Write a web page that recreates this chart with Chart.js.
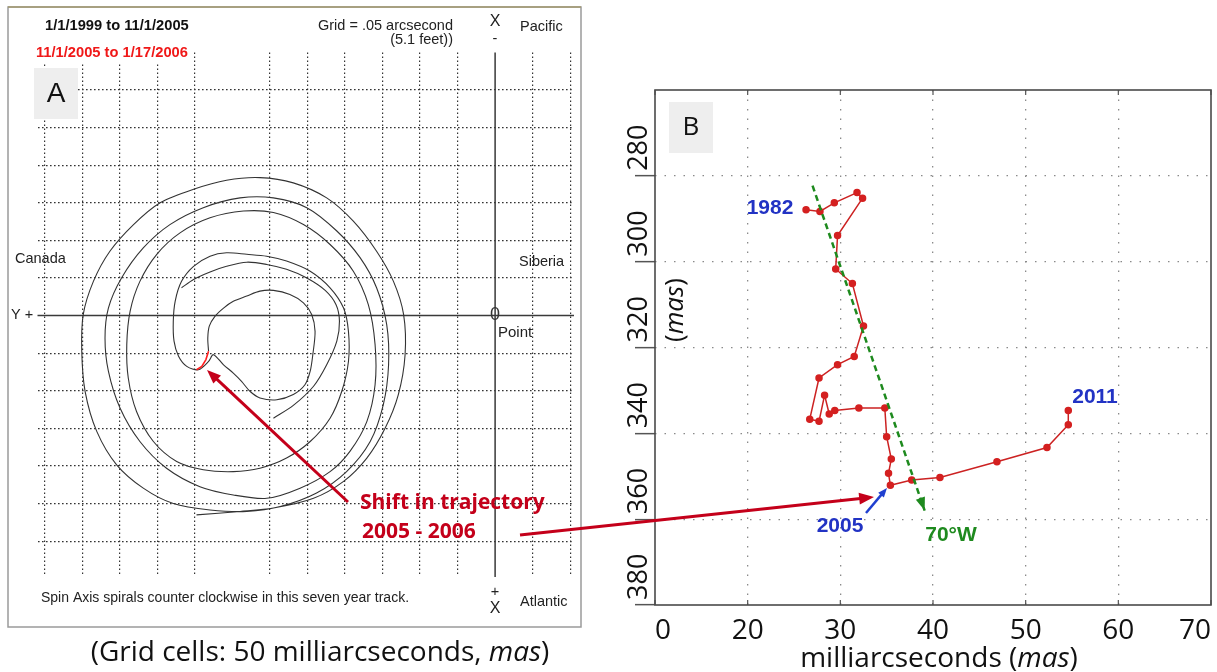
<!DOCTYPE html>
<html>
<head>
<meta charset="utf-8">
<script src="https://cdn.jsdelivr.net/npm/chart.js@4.4.1/dist/chart.umd.min.js"></script>
<style>
html, body { margin: 0; padding: 0; background: #fff; }
#wrap { position: relative; width: 1217px; height: 672px; overflow: hidden; }
#wrap canvas { position: absolute; left: 0; top: 0; }
</style>
</head>
<body>
<div id="wrap">
  <canvas id="spiral" width="1217" height="672"></canvas>
  <canvas id="trend" width="1217" height="672"></canvas>
</div>
<script>
// ---- panel A: pole track 1999-2006, grid cells (1 cell = 50 mas), origin at the Point
const trackLoops = [
  [-7.96,-5.30],[-6.80,-5.21],[-5.91,-5.12],[-4.84,-4.86],[-4.04,-4.41],[-3.42,-3.79],[-2.93,-2.99],[-2.58,-2.10],
  [-2.40,-1.04],[-2.44,0.03],[-2.71,0.91],[-3.16,1.71],[-3.78,2.51],[-4.49,3.13],[-5.38,3.53],[-6.27,3.67],
  [-7.16,3.60],[-8.04,3.36],[-8.93,3.00],[-9.64,2.42],[-10.27,1.71],[-10.71,0.91],[-10.98,0.03],[-11.02,-0.95],
  [-10.93,-2.02],[-10.62,-3.08],[-10.09,-3.97],[-9.38,-4.59],[-8.58,-5.00],[-7.60,-5.17],[-6.62,-5.21],
  [-5.73,-5.08],[-4.76,-4.72],[-3.96,-4.15],[-3.33,-3.35],[-2.98,-2.37],[-2.84,-1.31],[-2.89,-0.24],[-3.16,0.74],
  [-3.60,1.54],[-4.22,2.25],[-5.02,2.87],[-5.91,3.13],[-6.80,3.13],[-7.78,2.87],[-8.67,2.42],[-9.38,1.80],
  [-9.96,1.00],[-10.31,0.20],[-10.40,-0.60],[-10.31,-1.48],[-10.00,-2.46],[-9.47,-3.35],[-8.76,-4.06],[-7.87,-4.55],
  [-6.98,-4.77],[-6.09,-4.86],
  [-5.20,-4.59],[-4.40,-4.15],[-3.87,-3.61],[-3.42,-2.82],[-3.20,-1.84],[-3.20,-0.77],[-3.38,0.29],[-3.78,1.18],
  [-4.40,1.89],[-5.11,2.42],[-5.91,2.74],[-6.71,2.78],[-7.60,2.60],[-8.40,2.20],[-9.02,1.63],[-9.47,0.91],
  [-9.73,0.12],[-9.82,-0.77],[-9.78,-1.66],[-9.56,-2.55],[-9.11,-3.35],[-8.49,-3.88],[-7.78,-4.10],[-6.98,-4.15],
  [-6.27,-4.06],[-5.56,-3.79],[-4.93,-3.35],
  [-4.40,-2.73],[-4.09,-2.02],[-3.91,-1.22],[-3.91,-0.42],[-4.04,0.20],[-4.40,0.74],[-4.93,1.18],[-5.56,1.45],
  [-6.09,1.58],[-6.62,1.63],[-7.16,1.67],[-7.60,1.58],[-8.04,1.31],[-8.36,0.91],[-8.53,0.38],[-8.58,-0.15],
  [-8.56,-0.68],[-8.44,-1.08],[-8.22,-1.35],[-7.91,-1.44],[-7.64,-1.22],[-7.51,-1.04],
  [-7.24,-1.31],[-6.98,-1.53],[-6.76,-1.75],[-6.53,-2.02],[-6.27,-2.19],[-5.82,-2.24],[-5.38,-2.10],[-5.07,-1.84],
  [-4.93,-1.48],[-4.86,-1.04],[-4.80,-0.42],[-4.89,0.03],[-5.11,0.34],[-5.47,0.56],[-5.91,0.67],[-6.27,0.65],
  [-6.62,0.52],[-6.98,0.38],[-7.24,0.20],[-7.47,-0.02],[-7.62,-0.28],[-7.66,-0.60],[-7.64,-0.95]
];
const trackStart = [
  [-5.91,-2.73],[-5.38,-2.39],[-4.84,-1.88],[-4.49,-1.31],[-4.22,-0.68],[-4.15,-0.15],[-4.24,0.29],[-4.53,0.67],
  [-5.02,1.00],[-5.56,1.23],[-6.09,1.36],[-6.62,1.42],[-7.16,1.31],[-7.60,1.16],[-8.04,0.96],[-8.36,0.74]
];
const trackShift = [[-7.64,-0.95],[-7.71,-1.17],[-7.82,-1.35],[-7.96,-1.44]];

// ---- panel B: mean pole 1982-2011 (mas)
const meanX = [26.3,27.8,29.35,31.8,32.4,29.7,29.5,31.3,32.5,31.5,29.7,27.7,26.7,27.7,28.3,28.8,29.4,32.0,34.8,35.0,35.5,35.2,35.4,37.7,40.75,46.9,52.3,54.6,54.6];
const meanY = [287.9,288.3,286.3,283.9,285.2,293.9,301.7,305.1,315.0,322.1,324.0,327.1,336.7,337.2,331.1,335.5,334.7,334.1,334.1,340.8,346.0,349.3,352.1,350.9,350.3,346.6,343.3,338.0,334.7];
const driftX = [27.0, 39.1];
const driftY = [282.3, 358.0];
const xTickLabels = ['0','20','30','40','50','60','70'];
const yTickValues = [280,300,320,340,360,380];
const yTickLabels = ['280','300','320','340','360','380'];

const CLEAR = 'rgba(0,0,0,0)';
const toPts = arr => arr.map(p => ({ x: p[0], y: p[1] }));

function arrow(ctx, x1, y1, x2, y2, color, w, head) {
  const a = Math.atan2(y2 - y1, x2 - x1);
  ctx.save();
  ctx.strokeStyle = color; ctx.fillStyle = color; ctx.lineWidth = w; ctx.setLineDash([]);
  ctx.beginPath();
  ctx.moveTo(x1, y1);
  ctx.lineTo(x2 - Math.cos(a) * head * 0.7, y2 - Math.sin(a) * head * 0.7);
  ctx.stroke();
  ctx.beginPath();
  ctx.moveTo(x2, y2);
  ctx.lineTo(x2 - head * Math.cos(a - 0.38), y2 - head * Math.sin(a - 0.38));
  ctx.lineTo(x2 - head * Math.cos(a + 0.38), y2 - head * Math.sin(a + 0.38));
  ctx.closePath();
  ctx.fill();
  ctx.restore();
}

function txt(ctx, s, x, y, font, color, align) {
  ctx.font = font;
  ctx.fillStyle = color;
  ctx.textAlign = align || 'left';
  ctx.textBaseline = 'middle';
  ctx.fillText(s, x, y);
}

// pieces of text with different fonts, centred on cx
function parts(ctx, list, cx, y, color) {
  let total = 0;
  list.forEach(p => { ctx.font = p[1]; total += ctx.measureText(p[0]).width; });
  let x = cx - total / 2;
  ctx.fillStyle = color;
  ctx.textAlign = 'left';
  ctx.textBaseline = 'middle';
  list.forEach(p => { ctx.font = p[1]; ctx.fillText(p[0], x, y); x += ctx.measureText(p[0]).width; });
}

const ARIAL = '"Liberation Sans", Arial, sans-serif';
const CALIBRI = '"Open Sans", sans-serif';

const panelA = {
  id: 'panelA',
  beforeDatasetsDraw(chart) {
    const ctx = chart.ctx, xs = chart.scales.x, ys = chart.scales.y, area = chart.chartArea;
    const x0 = xs.getPixelForValue(0), y0 = ys.getPixelForValue(0);
    ctx.save();
    // white patch behind the red dates
    ctx.fillStyle = '#fff';
    ctx.fillRect(28, 44, 166, 20);
    ctx.strokeStyle = '#3a3a3a';
    ctx.lineWidth = 1.5;
    ctx.beginPath();
    ctx.moveTo(x0, area.top); ctx.lineTo(x0, area.bottom + 2);
    ctx.moveTo(area.left, y0); ctx.lineTo(area.right + 2, y0);
    ctx.stroke();
    // label box A
    ctx.fillStyle = '#eeeeee';
    ctx.fillRect(34, 68, 44, 51);
    ctx.restore();
  },
  afterDraw(chart) {
    const ctx = chart.ctx;
    const small = '14.5px ' + ARIAL;
    ctx.save();
    // frame
    ctx.lineWidth = 1.5;
    ctx.strokeStyle = '#9a9a9a';
    ctx.strokeRect(8, 7, 573, 620);
    ctx.strokeStyle = '#a39a70';
    ctx.beginPath(); ctx.moveTo(8, 7); ctx.lineTo(581, 7); ctx.stroke();

    txt(ctx, 'A', 56, 94, '28px ' + ARIAL, '#111', 'center');
    txt(ctx, '1/1/1999 to 11/1/2005', 45, 26, 'bold 14.7px ' + ARIAL, '#111');
    txt(ctx, '11/1/2005 to 1/17/2006', 36, 53, 'bold 14.7px ' + ARIAL, '#f01818');
    txt(ctx, 'Grid = .05 arcsecond', 453, 26, small, '#222', 'right');
    txt(ctx, '(5.1 feet))', 453, 40, small, '#222', 'right');
    txt(ctx, 'X', 495, 22, '16px ' + ARIAL, '#222', 'center');
    txt(ctx, '-', 495, 39, small, '#222', 'center');
    txt(ctx, 'Pacific', 520, 27, small, '#222');
    txt(ctx, 'Canada', 15, 259, small, '#222');
    txt(ctx, 'Siberia', 519, 262, small, '#222');
    txt(ctx, 'Y +', 11, 315, small, '#222');
    txt(ctx, '0', 495, 315, '18px ' + ARIAL, '#333', 'center');
    txt(ctx, 'Point', 498, 333, '15px ' + ARIAL, '#222');
    txt(ctx, 'Spin Axis spirals counter clockwise in this seven year track.', 41, 598, '14px ' + ARIAL, '#222');
    txt(ctx, '+', 495, 592, small, '#222', 'center');
    txt(ctx, 'X', 495, 609, '16px ' + ARIAL, '#222', 'center');
    txt(ctx, 'Atlantic', 520, 602, small, '#222');

    txt(ctx, 'Shift in trajectory', 360, 503, 'bold 21px ' + CALIBRI, '#c4001a');
    txt(ctx, '2005 - 2006', 362, 532, 'bold 21px ' + CALIBRI, '#c4001a');
    arrow(ctx, 348, 502, 207, 370, '#c4001a', 3, 15);

    parts(ctx, [['(Grid cells: 50 milliarcseconds, ', '28px ' + CALIBRI], ['mas', 'italic 28px ' + CALIBRI], [')', '28px ' + CALIBRI]], 320, 653, '#111');
    ctx.restore();
  }
};

const gridA = c => {
  const v = c.tick ? c.tick.value : NaN;
  return (Number.isInteger(v) && v !== 0 && Math.abs(v) !== 7) ? '#333' : CLEAR;
};

new Chart(document.getElementById('spiral'), {
  type: 'scatter',
  data: {
    datasets: [
      { data: toPts(trackShift), showLine: true, borderColor: '#ff2020', borderWidth: 1.6, pointRadius: 0, tension: 0 },
      { data: toPts(trackLoops), showLine: true, borderColor: '#333', borderWidth: 1.1, pointRadius: 0, tension: 0.3 },
      { data: toPts(trackStart), showLine: true, borderColor: '#333', borderWidth: 1.1, pointRadius: 0, tension: 0.3 }
    ]
  },
  options: {
    responsive: false, animation: false, devicePixelRatio: 1,
    layout: { padding: { left: 37.5, top: 52.4, right: 645, bottom: 97 } },
    plugins: { legend: { display: false }, tooltip: { enabled: false } },
    scales: {
      x: {
        type: 'linear', min: -12.2, max: 2.05,
        afterFit: s => { s.height = 0; },
        ticks: { display: false, stepSize: 1, includeBounds: false },
        border: { display: false, dash: [1.6, 2.4] },
        grid: { drawTicks: false, color: gridA, lineWidth: 1.2 }
      },
      y: {
        type: 'linear', min: -6.9, max: 7,
        afterFit: s => { s.width = 0; },
        ticks: { display: false, stepSize: 1, includeBounds: false },
        border: { display: false, dash: [1.6, 2.4] },
        grid: { drawTicks: false, color: gridA, lineWidth: 1.2 }
      }
    }
  },
  plugins: [panelA]
});

const panelB = {
  id: 'panelB',
  beforeDatasetsDraw(chart) {
    const ctx = chart.ctx, a = chart.chartArea, xs = chart.scales.x;
    ctx.save();
    ctx.fillStyle = '#eeeeee';
    ctx.fillRect(669, 102, 44, 51);
    // MATLAB style inner ticks
    ctx.strokeStyle = '#555';
    ctx.lineWidth = 1.2;
    ctx.beginPath();
    xs.ticks.forEach(t => {
      const x = xs.getPixelForValue(t.value);
      ctx.moveTo(x, a.top); ctx.lineTo(x, a.top + 5);
      ctx.moveTo(x, a.bottom); ctx.lineTo(x, a.bottom - 5);
    });
    ctx.stroke();
    ctx.lineWidth = 1.6;
    ctx.strokeStyle = '#4a4a4a';
    ctx.strokeRect(a.left, a.top, a.right - a.left, a.bottom - a.top);
    ctx.restore();
  },
  afterDraw(chart) {
    const ctx = chart.ctx, xs = chart.scales.x, ys = chart.scales.y;
    ctx.save();
    txt(ctx, 'B', 691, 128, '26px ' + CALIBRI, '#111', 'center');
    // rotated y tick labels
    yTickValues.forEach((v, i) => {
      const y = ys.getPixelForValue(v);
      ctx.save();
      ctx.translate(639, y - 5);
      ctx.rotate(-Math.PI / 2);
      txt(ctx, yTickLabels[i], 0, 0, '27px ' + CALIBRI, '#111', 'left');
      ctx.restore();
    });
    // axis titles
    parts(ctx, [['milliarcseconds (', '28px ' + CALIBRI], ['mas', 'italic 28px ' + CALIBRI], [')', '28px ' + CALIBRI]], 939, 659, '#111');
    ctx.save();
    ctx.translate(676, 310);
    ctx.rotate(-Math.PI / 2);
    parts(ctx, [['(', '26px ' + CALIBRI], ['mas', 'italic 26px ' + CALIBRI], [')', '26px ' + CALIBRI]], 0, 0, '#111');
    ctx.restore();

    // drift direction arrow head
    const n = driftX.length - 1;
    const gx1 = xs.getPixelForValue(driftX[n - 1]), gy1 = ys.getPixelForValue(driftY[n - 1]);
    const gx2 = xs.getPixelForValue(driftX[n]), gy2 = ys.getPixelForValue(driftY[n]);
    const ang = Math.atan2(gy2 - gy1, gx2 - gx1);
    ctx.fillStyle = '#1e8a1e';
    ctx.beginPath();
    ctx.moveTo(gx2, gy2);
    ctx.lineTo(gx2 - 14 * Math.cos(ang - 0.35), gy2 - 14 * Math.sin(ang - 0.35));
    ctx.lineTo(gx2 - 14 * Math.cos(ang + 0.35), gy2 - 14 * Math.sin(ang + 0.35));
    ctx.closePath();
    ctx.fill();

    txt(ctx, '1982', 770, 208, 'bold 21px ' + ARIAL, '#2233c4', 'center');
    txt(ctx, '2011', 1095, 397, 'bold 21px ' + ARIAL, '#2233c4', 'center');
    txt(ctx, '2005', 840, 526, 'bold 21px ' + ARIAL, '#2233c4', 'center');
    txt(ctx, '70°W', 951, 535, 'bold 21px ' + ARIAL, '#1e8a1e', 'center');
    arrow(ctx, 866, 513, 887, 488, '#2040d0', 2.5, 10);

    // connector from panel A note to the 2005 point
    arrow(ctx, 520, 535, 874, 497, '#c4001a', 3, 16);
    ctx.restore();
  }
};

const gridB = c => {
  const v = c.tick ? c.tick.value : NaN;
  return (v === 10 || v === 70 || v === 260 || v === 380) ? CLEAR : '#8a8a8a';
};

new Chart(document.getElementById('trend'), {
  type: 'scatter',
  data: {
    datasets: [
      { data: driftX.map((x, i) => ({ x, y: driftY[i] })), showLine: true, borderColor: '#1e8a1e', borderWidth: 2.5, borderDash: [6, 4], pointRadius: 0 },
      { data: meanX.map((x, i) => ({ x, y: meanY[i] })), showLine: true, borderColor: '#cc2222', borderWidth: 1.5,
        pointRadius: 3, pointBackgroundColor: '#d42020', pointBorderColor: '#d42020', tension: 0 }
    ]
  },
  options: {
    responsive: false, animation: false, devicePixelRatio: 1,
    layout: { padding: { left: 635, top: 90, right: 6, bottom: 27 } },
    plugins: { legend: { display: false }, tooltip: { enabled: false } },
    scales: {
      x: {
        type: 'linear', min: 10, max: 70,
        afterFit: s => { s.height = 40; s.paddingLeft = 0; s.paddingRight = 0; },
        ticks: { stepSize: 10, align: 'inner', padding: 9, color: '#111', font: { family: 'Open Sans', size: 28 },
                 callback: (v, i) => xTickLabels[i] },
        border: { display: false, dash: [1.5, 8] },
        grid: { drawTicks: false, color: gridB, lineWidth: 1.3 }
      },
      y: {
        type: 'linear', min: 260, max: 380, reverse: true,
        afterFit: s => { s.width = 20; s.paddingTop = 0; s.paddingBottom = 0; },
        ticks: { stepSize: 20, display: false },
        border: { display: false, dash: [1.5, 8] },
        grid: { drawTicks: true, tickLength: 20, color: gridB, lineWidth: 1.3,
                tickColor: c => (c.tick && c.tick.value === 260) ? CLEAR : '#555', tickWidth: 1.5, tickBorderDash: [] }
      }
    }
  },
  plugins: [panelB]
});
</script>
</body>
</html>
